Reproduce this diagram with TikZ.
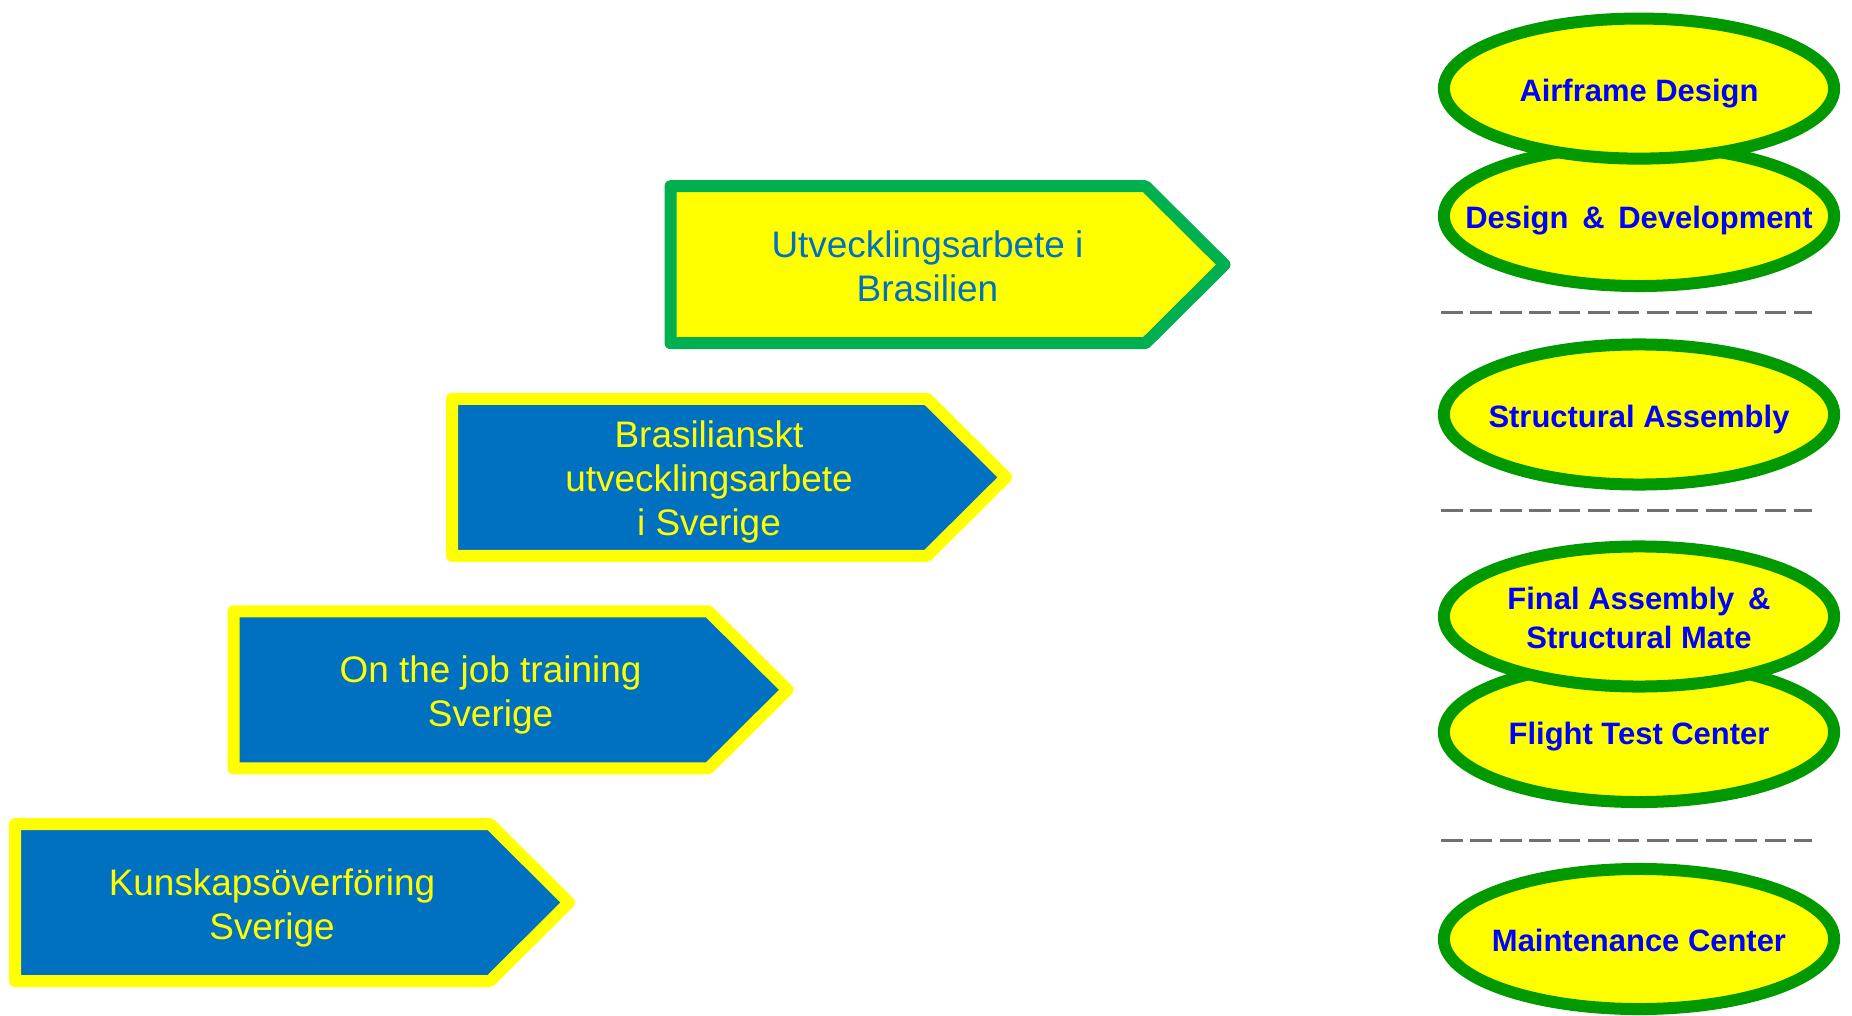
\documentclass[tikz,border=0pt]{standalone}
\usepackage{fontspec}
\setmainfont{Liberation Sans}
\usetikzlibrary{shapes.geometric}
\definecolor{aBlue}{HTML}{0070C0}
\definecolor{aYellow}{HTML}{FFFF00}
\definecolor{aGreen}{HTML}{00B050}
\definecolor{eGreen}{HTML}{009900}
\definecolor{eBlue}{HTML}{0000FF}
\definecolor{dGray}{HTML}{707070}
\newcommand{\ovaltext}[1]{\makebox[0pt][c]{\raisebox{-0.13cm}[0pt][0pt]{\begin{tabular}{@{}c@{}}#1\end{tabular}}}}
\tikzset{
  arrowblue/.style={fill=aBlue,draw=aYellow,line width=0.12cm,line join=round},
  arrowyellow/.style={fill=aYellow,draw=aGreen,line width=0.12cm,line join=round},
  arrowtext/.style={align=center,font=\fontsize{10.5}{12.5}\selectfont,inner sep=0pt},
  oval/.style={ellipse,fill=aYellow,draw=eGreen,line width=0.12cm,minimum width=3.9cm,minimum height=1.4cm,inner sep=0pt,text=eBlue,font=\fontsize{8.8}{11.1}\selectfont\bfseries},
  sepline/.style={draw=dGray,line width=0.03cm,dash pattern=on 0.217cm off 0.077cm}
}
\begin{document}
\begin{tikzpicture}[x=0.01cm,y=-0.01cm]
\useasboundingbox[fill=white] (0,0) rectangle (1852,1016);
% arrows
\draw[arrowblue] (15,824) -- (490,824) -- (569,902.5) -- (490,981) -- (15,981) -- cycle;
\node[arrowtext,text=aYellow] (t1) at (272,907.5) {Kunskapsöverföring\\Sverige};
\draw[arrowblue] (233.5,611.4) -- (708.5,611.4) -- (787.5,689.9) -- (708.5,768.4) -- (233.5,768.4) -- cycle;
\node[arrowtext,text=aYellow] (t2) at (490.5,694.9) {On the job training\\Sverige};
\draw[arrowblue] (452,398.8) -- (927,398.8) -- (1006,477.3) -- (927,555.8) -- (452,555.8) -- cycle;
\node[arrowtext,text=aYellow] (t3) at (709,482.3) {Brasilianskt\\utvecklingsarbete\\i Sverige};
\draw[arrowyellow] (670.5,186.2) -- (1145.5,186.2) -- (1224.5,264.7) -- (1145.5,343.2) -- (670.5,343.2) -- cycle;
\node[arrowtext,text=aBlue] (t4) at (927.5,266) {Utvecklingsarbete i\\Brasilien};
% ovals
\node[oval] (e2) at (1639,216) {\ovaltext{Design \,\&\, Development}};
\node[oval] (e1) at (1639,88.6) {\ovaltext{Airframe Design}};
\node[oval] (e3) at (1639,414.5) {\ovaltext{Structural Assembly}};
\node[oval] (e5) at (1639,732) {\ovaltext{Flight Test Center}};
\node[oval] (e4) at (1639,616.5) {\ovaltext{Final Assembly \,\&\\Structural Mate}};
\node[oval] (e6) at (1639,939) {\ovaltext{Maintenance Center}};
% separators
\coordinate (s1a) at (1441,313); \coordinate (s1b) at (1812,313);
\coordinate (s2a) at (1441,511); \coordinate (s2b) at (1812,511);
\coordinate (s3a) at (1441,840); \coordinate (s3b) at (1812,840);
\draw[sepline] (s1a) -- (s1b);
\draw[sepline] (s2a) -- (s2b);
\draw[sepline] (s3a) -- (s3b);
\end{tikzpicture}
\end{document}
